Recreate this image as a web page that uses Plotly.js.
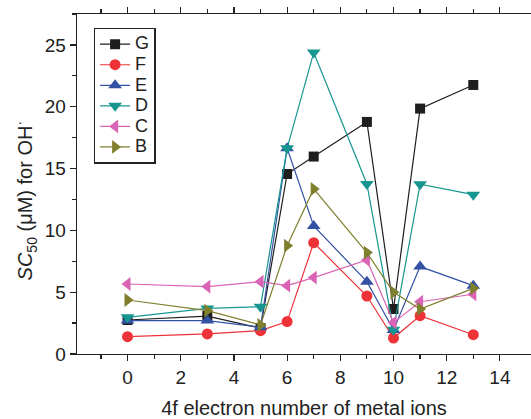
<!DOCTYPE html>
<html><head><meta charset="utf-8">
<script src="https://cdn.plot.ly/plotly-3.0.1.min.js"></script>
<style>html,body{margin:0;padding:0;background:#fff}#chart{width:531px;height:419px}</style>
</head><body><div id="chart"></div>
<script>
const xVals = [0, 3, 5, 6, 7, 9, 10, 11, 13];
const seriesNames = ["G", "F", "E", "D", "C", "B"];
const G = [2.75, 3.07, 2.1, 14.56, 15.97, 18.77, 3.64, 19.85, 21.76];
const F = [1.40, 1.62, 1.89, 2.62, 9.0, 4.69, 1.29, 3.10, 1.56];
const E = [2.70, 2.70, 2.16, 16.64, 10.36, 5.85, 1.94, 7.07, 5.53];
const D = [2.97, 3.69, 3.83, 16.64, 24.38, 13.75, 1.97, 13.73, 12.89];
const C = [5.66, 5.45, 5.85, 5.53, 6.18, 7.6, 2.54, 4.23, 4.83];
const B = [4.37, 3.51, 2.35, 8.76, 13.35, 8.2, 4.99, 3.64, 5.31];
const seriesData = [G, F, E, D, C, B];
const colors = ["#1e1e1e", "#ee3338", "#3452a4", "#17968f", "#d963b4", "#7f7f2e"];
const symbols = ["square", "circle", "triangle-up", "triangle-down", "triangle-left", "triangle-right"];
const sizes = [10, 11, 12, 12, 12, 12];

const traces = seriesNames.map((n, i) => ({
  x: xVals, y: seriesData[i], name: '<span style="font-size:18px">' + n + '</span>',
  type: "scatter", mode: "lines+markers",
  line: {color: colors[i], width: 1.2},
  marker: {symbol: symbols[i], size: sizes[i], color: colors[i]}
}));

const fam = "Liberation Sans, Arial, sans-serif";
const layout = {
  width: 531, height: 419,
  margin: {l: 77, r: 0, t: 14, b: 65},
  paper_bgcolor: "#fff", plot_bgcolor: "#fff",
  font: {family: fam, size: 19, color: "#222"},
  showlegend: true,
  legend: {x: 0.037, y: 0.96, xanchor: "left", yanchor: "top",
    bordercolor: "#222", borderwidth: 1.3, bgcolor: "#fff",
    font: {family: fam, size: 13.5, color: "#222"},
    tracegroupgap: 0, itemwidth: 30},
  xaxis: {
    range: [-1.9, 15.17], tickvals: [0, 2, 4, 6, 8, 10, 12, 14],
    ticks: "outside", ticklen: 6, tickwidth: 1.2, tickcolor: "#222",
    minor: {tickvals: [-1, 1, 3, 5, 7, 9, 11, 13], ticks: "outside", ticklen: 4, tickcolor: "#222", tickwidth: 1.2},
    showline: true, linecolor: "#222", linewidth: 1.3, mirror: "ticks",
    showgrid: false, zeroline: false,
    title: {text: "4f electron number of metal ions", font: {size: 20}, standoff: 16},
    tickfont: {size: 19}
  },
  yaxis: {
    range: [0, 27.5], tickvals: [0, 5, 10, 15, 20, 25],
    ticks: "outside", ticklen: 6, tickwidth: 1.2, tickcolor: "#222",
    minor: {tickvals: [2.5, 7.5, 12.5, 17.5, 22.5, 27.5], ticks: "outside", ticklen: 4, tickcolor: "#222", tickwidth: 1.2},
    showline: true, linecolor: "#222", linewidth: 1.3, mirror: false,
    showgrid: false, zeroline: false,
    title: {text: "<i>SC</i><sub>50</sub> (μM) for OH<sup>·</sup>&nbsp;&nbsp;&nbsp;&nbsp;&nbsp;&nbsp;", font: {size: 20}, standoff: 6},
    tickfont: {size: 19}
  }
};
Plotly.newPlot("chart", traces, layout, {displayModeBar: false, staticPlot: true});
</script></body></html>
